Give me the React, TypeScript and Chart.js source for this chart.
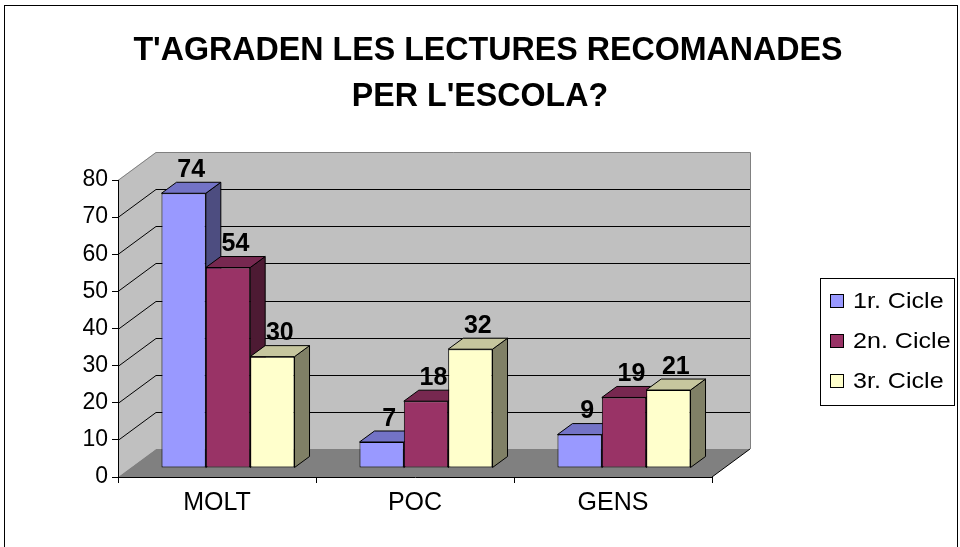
import React, { useEffect, useRef } from 'react';
import { Chart, registerables } from 'chart.js';

Chart.register(...registerables);

const TITLE_LINES = ["T'AGRADEN LES LECTURES RECOMANADES", "PER L'ESCOLA?"];
const CATEGORIES = ['MOLT', 'POC', 'GENS'];
const SERIES_NAMES = ['1r. Cicle', '2n. Cicle', '3r. Cicle'];
const CICLE_1 = [74, 7, 9];
const CICLE_2 = [54, 18, 19];
const CICLE_3 = [30, 32, 21];
const Y_MIN = 0;
const Y_MAX = 80;
const Y_STEP = 10;

const FRONT = ['#9999FF', '#993366', '#FFFFCC'];
const TOP = ['#7373C6', '#772850', '#C6C69E'];
const SIDE = ['#4D4D80', '#4D1A33', '#808066'];

const FONT = '"Liberation Sans", Arial, Helvetica, sans-serif';
const WALL_DX = 38;
const WALL_DY = -28;
const BAR_DX = 11;
const BAR_DY = -9;
const TOP_DX = 15;
const TOP_DY = -11;

function scaledText(ctx: any, text: string, x: number, y: number, sx: number) {
  ctx.save();
  ctx.translate(x, y);
  ctx.scale(sx, 1);
  ctx.fillText(text, 0, 0);
  ctx.restore();
}

const threeD = {
  id: 'threeD',
  beforeDraw(chart: any) {
    const { ctx, chartArea: a } = chart;
    const y = chart.scales.y;
    const L = a.left;
    const R = a.right;
    const T = y.getPixelForValue(Y_MAX);
    const B = y.getPixelForValue(Y_MIN);
    ctx.save();
    ctx.fillStyle = '#ffffff';
    ctx.fillRect(0, 0, chart.width, chart.height);
    ctx.fillStyle = '#C0C0C0';
    ctx.beginPath();
    ctx.moveTo(L, T);
    ctx.lineTo(L + WALL_DX, T + WALL_DY);
    ctx.lineTo(L + WALL_DX, B + WALL_DY);
    ctx.lineTo(L, B);
    ctx.closePath();
    ctx.fill();
    ctx.fillRect(L + WALL_DX, T + WALL_DY, R - L, B - T);
    ctx.fillStyle = '#808080';
    ctx.beginPath();
    ctx.moveTo(L, B);
    ctx.lineTo(R, B);
    ctx.lineTo(R + WALL_DX, B + WALL_DY);
    ctx.lineTo(L + WALL_DX, B + WALL_DY);
    ctx.closePath();
    ctx.fill();
    ctx.lineWidth = 1;
    ctx.strokeStyle = '#000';
    y.ticks.forEach((t: any) => {
      const v = t.value;
      if (v <= Y_MIN || v >= Y_MAX) return;
      const py = Math.round(y.getPixelForValue(v)) + 0.5;
      ctx.beginPath();
      ctx.moveTo(L, py);
      ctx.lineTo(L + WALL_DX, py + WALL_DY);
      ctx.lineTo(R + WALL_DX, py + WALL_DY);
      ctx.stroke();
    });
    ctx.strokeStyle = '#808080';
    const tp = Math.round(T) + 0.5;
    ctx.beginPath();
    ctx.moveTo(L, tp);
    ctx.lineTo(L + WALL_DX, tp + WALL_DY);
    ctx.lineTo(R + WALL_DX + 0.5, tp + WALL_DY);
    ctx.lineTo(R + WALL_DX + 0.5, B + WALL_DY);
    ctx.stroke();
    ctx.strokeStyle = '#000';
    ctx.beginPath();
    ctx.moveTo(R, B);
    ctx.lineTo(R + WALL_DX, B + WALL_DY);
    ctx.stroke();
    ctx.restore();
  },
  beforeDatasetsDraw(chart: any) {
    const { ctx } = chart;
    const bars: any[] = [];
    chart.data.datasets.forEach((ds: any, i: number) => {
      const meta = chart.getDatasetMeta(i);
      meta.data.forEach((el: any) => {
        const p = el.getProps(['x', 'y', 'base', 'width'], true);
        bars.push({
          i,
          l: p.x - p.width / 2 + BAR_DX,
          r: p.x + p.width / 2 + BAR_DX,
          t: p.y + BAR_DY,
          b: p.base + BAR_DY,
        });
      });
    });
    bars.sort((a, b) => a.l - b.l);
    ctx.save();
    ctx.lineWidth = 1;
    ctx.strokeStyle = '#000';
    ctx.lineJoin = 'round';
    bars.forEach((bar) => {
      ctx.fillStyle = SIDE[bar.i];
      ctx.beginPath();
      ctx.moveTo(bar.r, bar.t);
      ctx.lineTo(bar.r + TOP_DX, bar.t + TOP_DY);
      ctx.lineTo(bar.r + TOP_DX, bar.b + TOP_DY);
      ctx.lineTo(bar.r, bar.b);
      ctx.closePath();
      ctx.fill();
      ctx.stroke();
      ctx.fillStyle = TOP[bar.i];
      ctx.beginPath();
      ctx.moveTo(bar.l, bar.t);
      ctx.lineTo(bar.r, bar.t);
      ctx.lineTo(bar.r + TOP_DX, bar.t + TOP_DY);
      ctx.lineTo(bar.l + TOP_DX, bar.t + TOP_DY);
      ctx.closePath();
      ctx.fill();
      ctx.stroke();
    });
    ctx.restore();
    ctx.save();
    ctx.translate(BAR_DX, BAR_DY);
  },
  afterDatasetsDraw(chart: any) {
    const { ctx } = chart;
    ctx.restore();
    ctx.save();
    ctx.fillStyle = '#000';
    ctx.font = `bold 25px ${FONT}`;
    ctx.textAlign = 'center';
    ctx.textBaseline = 'alphabetic';
    chart.data.datasets.forEach((ds: any, i: number) => {
      const meta = chart.getDatasetMeta(i);
      meta.data.forEach((el: any, j: number) => {
        const p = el.getProps(['x', 'y'], true);
        ctx.fillText(String(ds.data[j]), p.x + BAR_DX + 7.5, p.y + BAR_DY - 16.5);
      });
    });
    ctx.restore();
  },
  afterDraw(chart: any) {
    const { ctx } = chart;
    ctx.save();
    ctx.fillStyle = '#000';
    ctx.font = `bold 33px ${FONT}`;
    ctx.textAlign = 'center';
    ctx.textBaseline = 'alphabetic';
    scaledText(ctx, TITLE_LINES[0], 488, 60, 0.976);
    scaledText(ctx, TITLE_LINES[1], 480, 106, 0.976);
    ctx.lineWidth = 1;
    ctx.strokeStyle = '#000';
    ctx.fillStyle = '#fff';
    ctx.fillRect(820.5, 278.5, 134, 127);
    ctx.strokeRect(820.5, 278.5, 134, 127);
    ctx.font = `22px ${FONT}`;
    ctx.textAlign = 'left';
    ctx.textBaseline = 'middle';
    SERIES_NAMES.forEach((name, i) => {
      const cy = 301 + i * 40;
      ctx.fillStyle = FRONT[i];
      ctx.fillRect(830.5, cy - 6.5, 13, 13);
      ctx.strokeRect(830.5, cy - 6.5, 13, 13);
      ctx.fillStyle = '#000';
      scaledText(ctx, name, 853, cy + 1, 1.14);
    });
    ctx.strokeStyle = '#000';
    ctx.strokeRect(4.5, 5.5, 953, 560);
    ctx.restore();
  },
};

export default function App() {
  const ref = useRef<HTMLCanvasElement | null>(null);
  useEffect(() => {
    if (!ref.current) return;
    const series = [CICLE_1, CICLE_2, CICLE_3];
    const chart = new Chart(ref.current, {
      type: 'bar',
      data: {
        labels: CATEGORIES,
        datasets: series.map((d, i) => ({
          label: SERIES_NAMES[i],
          data: d,
          backgroundColor: FRONT[i],
          borderColor: '#000',
          borderWidth: 1,
          borderSkipped: false,
          categoryPercentage: 0.672,
          barPercentage: 1,
          clip: false,
        })),
      },
      options: {
        animation: false,
        responsive: true,
        maintainAspectRatio: false,
        layout: { padding: { top: 180, right: 248, bottom: 0, left: 0 } },
        plugins: {
          legend: { display: false },
          title: { display: false },
          tooltip: { enabled: false },
        },
        scales: {
          x: {
            grid: { offset: true, drawOnChartArea: false, drawTicks: true, tickLength: 6, color: '#000' },
            border: { color: '#000', width: 1 },
            ticks: { color: '#000', font: { family: FONT, size: 25 }, padding: 5 },
            afterFit: (s: any) => { s.height = 70; },
          },
          y: {
            min: Y_MIN,
            max: Y_MAX,
            grid: { drawOnChartArea: false, drawTicks: true, tickLength: 6, color: '#000' },
            border: { color: '#000', width: 1 },
            ticks: { stepSize: Y_STEP, color: '#000', font: { family: FONT, size: 23 }, padding: 4 },
            afterFit: (s: any) => { s.width = 118; },
          },
        },
      },
      plugins: [threeD],
    });
    return () => chart.destroy();
  }, []);
  return (
    <div style={{ position: 'fixed', left: 0, top: 0, width: 960, height: 547, background: '#fff' }}>
      <canvas ref={ref} />
    </div>
  );
}
